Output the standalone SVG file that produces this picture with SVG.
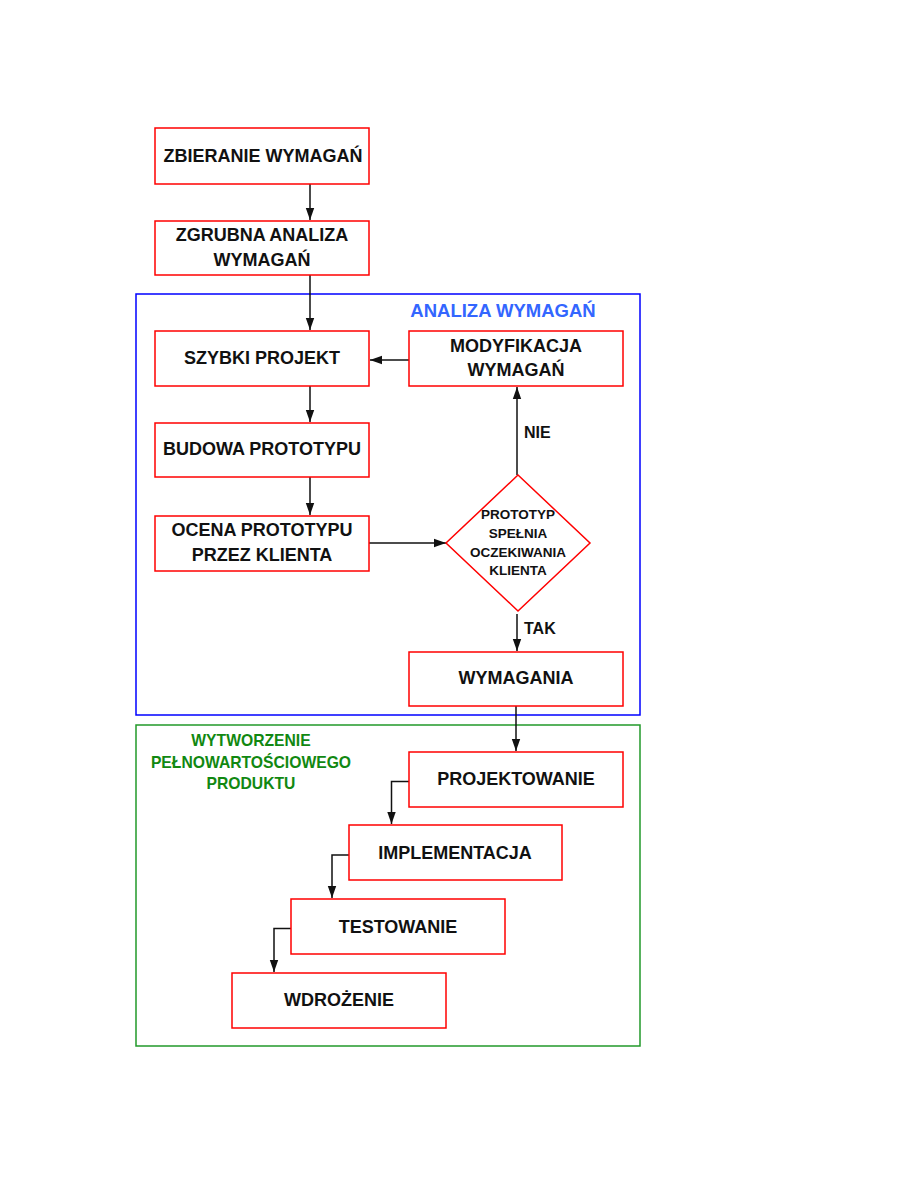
<svg xmlns="http://www.w3.org/2000/svg" width="918" height="1188" viewBox="0 0 918 1188">
<style>
.n{fill:#fff;stroke:#ff0000;stroke-width:1.5}
.t{font-family:"Liberation Sans",Arial,sans-serif;font-weight:bold;font-size:18px;fill:#111;text-anchor:middle}
.s{font-family:"Liberation Sans",Arial,sans-serif;font-weight:bold;font-size:13.5px;fill:#111;text-anchor:middle}
.c{fill:none;stroke:#111;stroke-width:1.5}
</style>
<defs>
<marker id="b" viewBox="0 0 10 10" refX="10" refY="5" markerWidth="12" markerHeight="12" markerUnits="userSpaceOnUse" orient="auto"><path d="M0,1.5 L10,5 L0,8.5 z" fill="#111"/></marker>
</defs>
<rect width="918" height="1188" fill="#fff"/>
<g id="grp-analiza">
<rect x="136" y="294" width="504" height="421" fill="none" stroke="#0000ff" stroke-width="1.5"/>
<text x="503" y="317" style="font-family:'Liberation Sans',Arial,sans-serif;font-weight:bold;font-size:18.5px;fill:#3366ff;text-anchor:middle">ANALIZA WYMAGAŃ</text>
</g>
<g id="grp-wytworzenie">
<rect x="136" y="725" width="504" height="321" fill="none" stroke="#22992a" stroke-width="1.5"/>
<text style="font-family:'Liberation Sans',Arial,sans-serif;font-weight:bold;font-size:15.7px;fill:#118811;text-anchor:middle"><tspan x="251" y="746">WYTWORZENIE</tspan><tspan x="251" y="768">PEŁNOWARTOŚCIOWEGO</tspan><tspan x="251" y="789">PRODUKTU</tspan></text>
</g>
<g id="connectors">
<line class="c" x1="310" y1="184" x2="310" y2="220" marker-end="url(#b)"/>
<line class="c" x1="310" y1="275" x2="310" y2="330" marker-end="url(#b)"/>
<line class="c" x1="409" y1="360" x2="370" y2="360" marker-end="url(#b)"/>
<line class="c" x1="310" y1="386" x2="310" y2="422" marker-end="url(#b)"/>
<line class="c" x1="310" y1="477" x2="310" y2="515" marker-end="url(#b)"/>
<line class="c" x1="369" y1="543" x2="446" y2="543" marker-end="url(#b)"/>
<line class="c" x1="517" y1="475" x2="517" y2="387" marker-end="url(#b)"/>
<line class="c" x1="517" y1="614" x2="517" y2="651" marker-end="url(#b)"/>
<line class="c" x1="516" y1="706" x2="516" y2="751" marker-end="url(#b)"/>
<polyline class="c" points="409,781.5 391.5,781.5 391.5,824" marker-end="url(#b)"/>
<polyline class="c" points="349,855 332,855 332,898" marker-end="url(#b)"/>
<polyline class="c" points="291,928.5 274,928.5 274,972" marker-end="url(#b)"/>
<text x="524" y="438" class="t" style="text-anchor:start;font-size:16px">NIE</text>
<text x="524" y="634" class="t" style="text-anchor:start;font-size:16px">TAK</text>
</g>
<g id="n1"><rect class="n" x="155" y="128" width="214" height="56"/><text class="t" x="263" y="162">ZBIERANIE WYMAGAŃ</text></g>
<g id="n2"><rect class="n" x="155" y="221" width="214" height="54"/><text class="t"><tspan x="262" y="241">ZGRUBNA ANALIZA</tspan><tspan x="262" y="266">WYMAGAŃ</tspan></text></g>
<g id="n3"><rect class="n" x="155" y="331" width="214" height="55"/><text class="t" x="262" y="364">SZYBKI PROJEKT</text></g>
<g id="n4"><rect class="n" x="409" y="331" width="214" height="55"/><text class="t"><tspan x="516" y="352">MODYFIKACJA</tspan><tspan x="516" y="376">WYMAGAŃ</tspan></text></g>
<g id="n5"><rect class="n" x="155" y="423" width="214" height="54"/><text class="t" x="262" y="455">BUDOWA PROTOTYPU</text></g>
<g id="n6"><rect class="n" x="155" y="516" width="214" height="55"/><text class="t"><tspan x="262" y="536">OCENA PROTOTYPU</tspan><tspan x="262" y="561">PRZEZ KLIENTA</tspan></text></g>
<g id="n7"><polygon class="n" points="518,475 590,543 518,611 446,543"/><text class="s"><tspan x="518" y="519">PROTOTYP</tspan><tspan x="518" y="537.5">SPEŁNIA</tspan><tspan x="518" y="557">OCZEKIWANIA</tspan><tspan x="518" y="575">KLIENTA</tspan></text></g>
<g id="n8"><rect class="n" x="409" y="652" width="214" height="54"/><text class="t" x="516" y="684">WYMAGANIA</text></g>
<g id="n9"><rect class="n" x="409" y="752" width="214" height="55"/><text class="t" x="516" y="785">PROJEKTOWANIE</text></g>
<g id="n10"><rect class="n" x="349" y="825" width="213" height="55"/><text class="t" x="455" y="859">IMPLEMENTACJA</text></g>
<g id="n11"><rect class="n" x="291" y="899" width="214" height="55"/><text class="t" x="398" y="933">TESTOWANIE</text></g>
<g id="n12"><rect class="n" x="232" y="973" width="214" height="55"/><text class="t" x="339" y="1006">WDROŻENIE</text></g>
</svg>
